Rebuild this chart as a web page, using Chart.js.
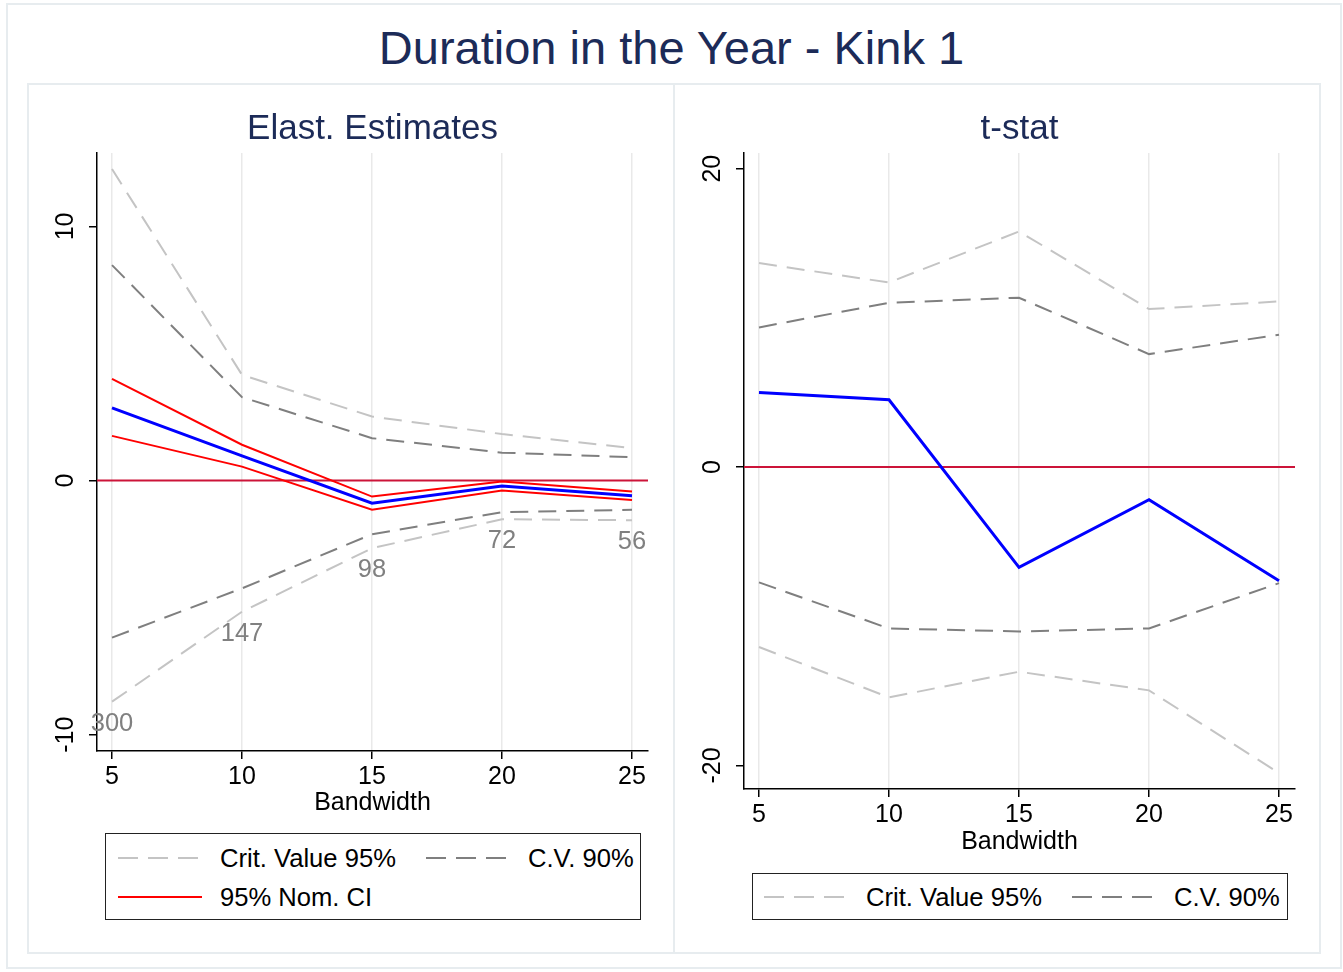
<!DOCTYPE html>
<html>
<head>
<meta charset="utf-8">
<script src="https://cdn.jsdelivr.net/npm/chart.js@4.4.0/dist/chart.umd.min.js"></script>
<style>
  body { margin: 0; background: #fff; font-family: "Liberation Sans", Arial, sans-serif; }
  #page { position: relative; width: 1343px; height: 972px; overflow: hidden; }
  .frame { position: absolute; border: 2px solid #e7ecef; box-sizing: border-box; }
  canvas { position: absolute; }
  #mainTitle { position: absolute; left: 0; width: 1343px; top: 20px; text-align: center;
               font-size: 47px; line-height: 56px; color: #1c2b58; }
  .legend { position: absolute; border: 1.5px solid #222; box-sizing: border-box; background: #fff; }
  .legend svg { position: absolute; left: 0; top: 0; }
  .legend span { position: absolute; font-size: 25.6px; line-height: 30px; color: #000; white-space: nowrap; }
</style>
</head>
<body>
<div id="page">
  <div class="frame" style="left:6px;top:3px;width:1336px;height:966px;"></div>
  <div class="frame" style="left:27px;top:83px;width:648px;height:871px;"></div>
  <div class="frame" style="left:673px;top:83px;width:648px;height:871px;"></div>
  <div id="mainTitle">Duration in the Year - Kink 1</div>
  <canvas id="elastChart" width="645" height="734" style="left:28px;top:84px;"></canvas>
  <canvas id="tstatChart" width="645" height="773" style="left:675px;top:84px;"></canvas>

  <div class="legend" style="left:105px;top:833px;width:536px;height:87px;">
    <svg width="536" height="87">
      <line x1="12" y1="24" x2="92" y2="24" stroke="#c4c4c4" stroke-width="2" stroke-dasharray="20 10"/>
      <line x1="320" y1="24" x2="400" y2="24" stroke="#7f7f7f" stroke-width="2" stroke-dasharray="20 10"/>
      <line x1="12" y1="63" x2="96" y2="63" stroke="#ff0000" stroke-width="2"/>
    </svg>
    <span style="left:114px;top:9px;">Crit. Value 95%</span>
    <span style="left:422px;top:9px;">C.V. 90%</span>
    <span style="left:114px;top:48px;">95% Nom. CI</span>
  </div>
  <div class="legend" style="left:752px;top:873px;width:536px;height:47px;">
    <svg width="536" height="47">
      <line x1="11" y1="23" x2="91" y2="23" stroke="#c4c4c4" stroke-width="2" stroke-dasharray="20 10"/>
      <line x1="319" y1="23" x2="399" y2="23" stroke="#7f7f7f" stroke-width="2" stroke-dasharray="20 10"/>
    </svg>
    <span style="left:113px;top:8px;">Crit. Value 95%</span>
    <span style="left:421px;top:8px;">C.V. 90%</span>
  </div>
</div>
<script>
// Bandwidths and number of observations at each one
const bandwidth = [5, 10, 15, 20, 25];
const sampleN = [300, 147, 98, 72, 56];

// Elasticity panel
const elastEst = [2.86, 0.97, -0.89, -0.21, -0.60];
const elastCiHi = [4.00, 1.41, -0.63, -0.04, -0.43];
const elastCiLo = [1.76, 0.55, -1.15, -0.39, -0.76];
const elastCv90Hi = [8.48, 3.28, 1.67, 1.10, 0.92];
const elastCv90Lo = [-6.18, -4.24, -2.11, -1.24, -1.15];
const elastCv95Hi = [12.26, 4.16, 2.52, 1.83, 1.28];
const elastCv95Lo = [-8.70, -5.16, -2.66, -1.52, -1.56];
const elastTicks = [-10, 0, 10];

// t-stat panel
const tStat = [5.00, 4.51, -6.73, -2.19, -7.62];
const tCv90Hi = [9.36, 11.01, 11.35, 7.57, 8.87];
const tCv90Lo = [-7.73, -10.82, -11.02, -10.82, -7.78];
const tCv95Hi = [13.67, 12.37, 15.79, 10.59, 11.10];
const tCv95Lo = [-12.06, -15.44, -13.72, -14.97, -20.51];
const tTicks = [-20, 0, 20];

const zeroLine = 0;

const FONT = '"Liberation Sans", Arial, sans-serif';
const lightGray = '#c4c4c4';
const darkGray = '#7f7f7f';
const titleColor = '#1c2b58';

function pts(arr) {
  return bandwidth.map((x, i) => ({ x: x, y: arr[i] }));
}

function line(arr, color, width, dashed) {
  return {
    data: pts(arr),
    borderColor: color,
    borderWidth: width,
    borderDash: dashed ? [18, 10] : [],
    pointRadius: 0,
    tension: 0,
    fill: false
  };
}

// zero line, rotated y tick labels, panel title, sample sizes
const panelDecor = {
  id: 'panelDecor',
  beforeDatasetsDraw(chart) {
    const { ctx, chartArea } = chart;
    const y = chart.scales.y.getPixelForValue(zeroLine);
    ctx.save();
    ctx.strokeStyle = '#cc1439';
    ctx.lineWidth = 2;
    ctx.beginPath();
    ctx.moveTo(chartArea.left, y);
    ctx.lineTo(chartArea.right, y);
    ctx.stroke();
    ctx.restore();
  },
  afterDraw(chart, args, opts) {
    const { ctx, chartArea } = chart;
    const ys = chart.scales.y;
    ctx.save();
    ctx.textAlign = 'center';
    ctx.textBaseline = 'middle';
    ctx.fillStyle = '#000';
    ctx.font = '25px ' + FONT;
    ys.ticks.forEach(t => {
      ctx.save();
      ctx.translate(chartArea.left - 31, ys.getPixelForValue(t.value));
      ctx.rotate(-Math.PI / 2);
      ctx.fillText(String(t.value), 0, 0);
      ctx.restore();
    });

    ctx.fillStyle = titleColor;
    ctx.font = '35px ' + FONT;
    ctx.fillText(opts.title, (chartArea.left + chartArea.right) / 2, 45);

    if (opts.labels) {
      const meta = chart.getDatasetMeta(opts.labelDataset);
      ctx.fillStyle = '#808080';
      ctx.font = '25.5px ' + FONT;
      meta.data.forEach((p, i) => {
        ctx.fillText(String(opts.labels[i]), p.x, p.y + 22);
      });
    }
    ctx.restore();
  }
};

function makeChart(id, datasets, yMin, yMax, yTicks, xHeight, decor) {
  return new Chart(document.getElementById(id), {
    type: 'line',
    data: { datasets: datasets },
    options: {
      responsive: false,
      animation: false,
      devicePixelRatio: 1,
      layout: { padding: { left: 0, right: 25, top: 69, bottom: 0 } },
      plugins: {
        legend: { display: false },
        tooltip: { enabled: false },
        panelDecor: decor
      },
      scales: {
        x: {
          type: 'linear',
          min: 4.423,
          max: 25.615,
          afterBuildTicks: s => { s.ticks = bandwidth.map(v => ({ value: v })); },
          afterFit: s => { s.height = xHeight; },
          grid: { color: '#e9e9e9', lineWidth: 1.5, tickColor: '#000', tickLength: 8 },
          border: { color: '#000', width: 1.5 },
          ticks: { color: '#000', font: { family: FONT, size: 25 }, padding: 3, maxRotation: 0, autoSkip: false },
          title: { display: true, text: 'Bandwidth', color: '#000', font: { family: FONT, size: 25 }, padding: 0 }
        },
        y: {
          type: 'linear',
          min: yMin,
          max: yMax,
          afterBuildTicks: s => { s.ticks = yTicks.map(v => ({ value: v })); },
          afterFit: s => { s.width = 69; },
          grid: { drawOnChartArea: false, tickColor: '#000', tickLength: 8, lineWidth: 1.5 },
          border: { color: '#000', width: 1.5 },
          ticks: { display: false }
        }
      }
    },
    plugins: [panelDecor]
  });
}

const elastSets = [
  line(elastEst, '#0000ff', 3, false),
  line(elastCiHi, '#ff0000', 2, false),
  line(elastCiLo, '#ff0000', 2, false),
  line(elastCv90Hi, darkGray, 2, true),
  line(elastCv90Lo, darkGray, 2, true),
  line(elastCv95Hi, lightGray, 2, true),
  line(elastCv95Lo, lightGray, 2, true)
];

const tSets = [
  line(tStat, '#0000ff', 3, false),
  line(tCv90Hi, darkGray, 2, true),
  line(tCv90Lo, darkGray, 2, true),
  line(tCv95Hi, lightGray, 2, true),
  line(tCv95Lo, lightGray, 2, true)
];

makeChart('elastChart', elastSets, -10.64, 12.89, elastTicks, 67,
  { title: 'Elast. Estimates', labels: sampleN, labelDataset: 6 });
makeChart('tstatChart', tSets, -21.58, 21.05, tTicks, 68,
  { title: 't-stat' });
</script>
</body>
</html>
